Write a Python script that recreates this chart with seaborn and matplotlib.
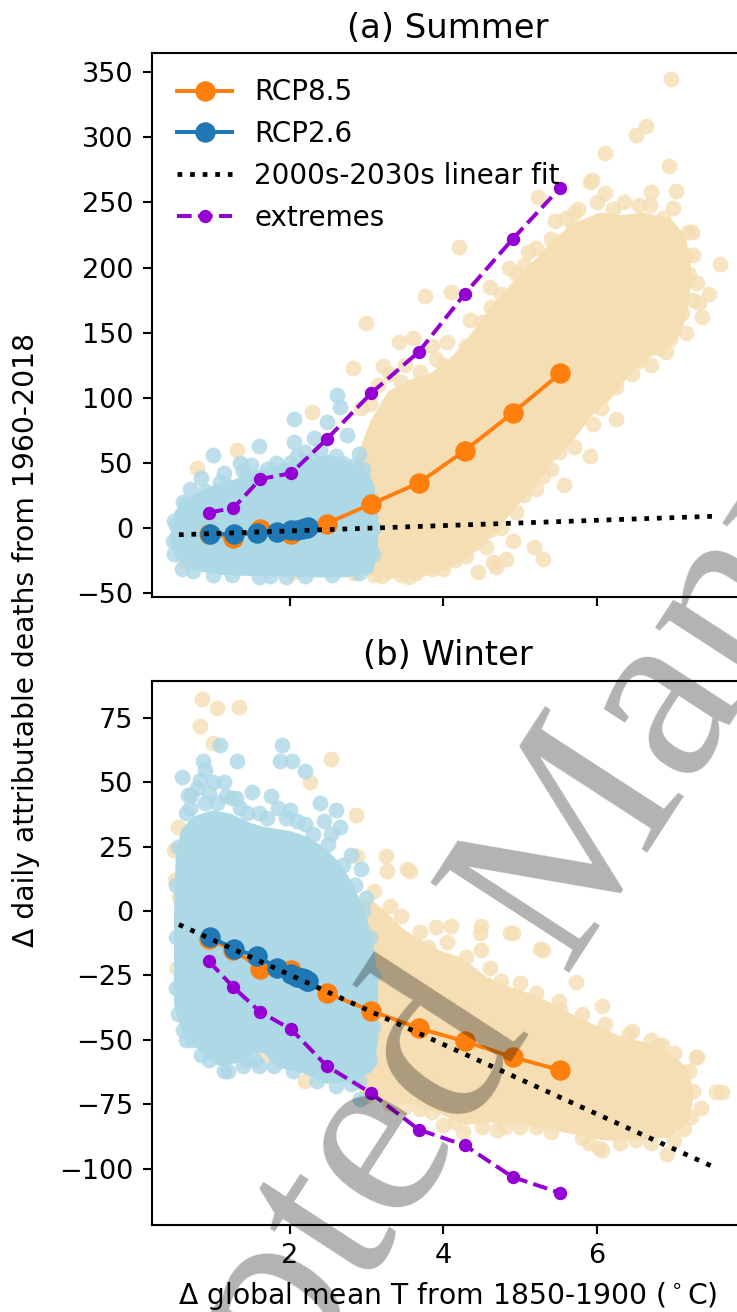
import seaborn as sns
import matplotlib.pyplot as plt

DPI = 190
OUT_PATH = "out.png"

# decade means, 2000s ... 2090s (warming above 1850-1900, degC)
rcp85_t = [0.95, 1.27, 1.62, 2.02, 2.48, 3.06, 3.68, 4.28, 4.90, 5.52]
rcp26_t = [0.97, 1.28, 1.58, 1.84, 2.02, 2.10, 2.16, 2.22, 2.24, 2.20]

summer_rcp85 = [-4.5, -7.5, -1.0, -5.0, 3.3, 18.3, 34.5, 59.4, 88.2, 118.6]
summer_rcp26 = [-4.5, -5.0, -3.8, -3.0, -2.0, -1.5, -1.0, 0.0, 0.3, -0.5]
summer_ext = [11.7, 15.3, 37.5, 42.0, 67.9, 103.4, 135.2, 179.9, 221.8, 261.3]

winter_rcp85 = [-11.0, -15.0, -22.3, -23.0, -31.8, -38.7, -45.5, -50.6, -56.7, -61.8]
winter_rcp26 = [-10.0, -14.7, -17.6, -22.0, -24.5, -25.5, -26.0, -27.0, -27.3, -26.5]
winter_ext = [-19.5, -29.6, -39.2, -45.9, -60.1, -70.7, -84.9, -91.0, -103.3, -109.5]

# 2000s-2030s linear fit, end points
fit_t = [0.56, 7.56]
summer_fit = [-5.3, 9.0]
winter_fit = [-5.2, -100.0]

# ensemble members: outline of the dense body + the members around it
s85_core_x = [2.90, 3.10, 3.40, 3.70, 4.00, 4.30, 4.50, 4.70, 4.90, 5.10, 5.35, 5.60, 5.85,
              6.10, 6.35, 6.60, 6.85, 7.00, 7.10, 7.12, 7.05, 6.90, 6.60, 6.30, 6.05, 5.80,
              5.55, 5.30, 5.00, 4.70, 4.45, 4.20, 3.90, 3.60, 3.35, 3.15, 2.95]
s85_core_y = [-30, -31, -32, -32, -26, -16, -6, 8, 22, 35, 55, 70, 90,
              103, 122, 135, 144, 152, 175, 200, 222, 232, 236, 234, 236, 230,
              220, 204, 186, 166, 146, 128, 114, 108, 100, 80, 50]
s85_x = [6.96, 6.64, 6.50, 6.10, 6.94, 5.93, 7.03, 5.23, 7.23, 7.60, 7.33, 7.37, 4.20, 3.76,
         3.00, 4.10, 3.42, 2.83, 5.57, 5.18, 5.30, 4.45, 4.81, 2.29, 1.32, 0.80, 2.93, 0.52,
         0.63, 2.06, 2.84, 6.69, 6.45, 7.18, 6.99, 5.91, 6.10, 5.69, 5.91, 6.25, 3.20, 3.55,
         4.68, 7.15, 6.80, 3.61, 4.05, 3.22, 4.35, 4.60, 4.85, 5.10, 5.45, 3.50, 3.90, 6.40,
         6.75, 5.75, 7.25,
         3.05, 3.15, 3.30, 3.45, 3.70, 3.85, 4.00, 4.30, 4.50, 4.62, 4.75, 4.95, 5.05, 5.20,
         5.40, 5.60, 5.70, 6.00, 6.20, 6.35, 6.55, 6.85, 6.70, 7.00, 7.15, 7.20, 7.25, 7.10,
         7.15, 6.95, 7.30, 7.45, 4.60, 4.75, 4.95, 5.05, 5.20, 5.40, 5.50, 5.70, 5.95, 6.05,
         6.25, 6.45, 6.70, 6.90, 5.30, 6.55, 6.80, 3.10, 3.30, 3.45, 3.65, 3.85, 4.00, 4.15,
         4.30, 4.40, 4.55, 4.65, 4.90]
s85_y = [345, 309, 302, 288, 278, 267, 259, 254, 227, 203, 173, 162, 216, 178,
         157, 181, 143, 123, 33, -15, -24, -34, -24, 89, 60, 46, 92, -7,
         -25, -34, -35, 248, 232, 227, 246, 266, 257, 230, 55, 84, -37, -38,
         -30, 190, 160, 146, 143, 124, 160, 185, 200, 212, 236, 125, 130, 150,
         200, 245, 210,
         95, 110, 118, 112, 120, 140, 125, 140, 158, 170, 180, 195, 202, 215,
         222, 238, 242, 250, 245, 250, 248, 238, 258, 222, 210, 195, 175, 165,
         150, 145, 188, 180, -2, 0, 12, 25, 30, 45, 58, 62, 80, 92,
         108, 118, 125, 135, 40, 128, 138, -36, -33, -36, -35, -32, -32, -25,
         -22, -12, -15, -26, -10]

s26_core_x = [0.55, 0.60, 0.80, 1.00, 1.30, 1.60, 1.90, 2.20, 2.50, 2.80, 3.00, 3.05, 3.05,
              3.00, 2.70, 2.30, 1.90, 1.50, 1.10, 0.80, 0.60]
s26_core_y = [-8, 10, 20, 26, 31, 38, 43, 46, 50, 44, 32, 10, -12,
              -30, -32, -32, -31, -31, -30, -27, -20]
s26_x = [1.00, 1.36, 1.60, 2.06, 2.06, 2.62, 2.66, 2.49, 2.32, 2.75, 1.82, 0.70, 0.85, 1.15,
         2.90, 2.40, 2.20, 1.50, 0.62, 2.95, 0.50, 0.52, 1.25, 1.75, 2.55, 0.75, 1.95, 2.85,
         1.40, 2.10,
         0.65, 0.90, 1.10, 1.20, 1.45, 1.70, 2.00, 2.30, 2.60, 2.70, 2.95, 3.08, 3.10, 3.08,
         0.48, 0.50, 0.60, 1.00, 1.60, 2.20, 2.90]
s26_y = [56, 50, 63, 84, 66, 102, 93, 81, 69, 71, 50, 30, 38, 42,
         57, 60, 58, 48, 20, 45, -20, 2, -36, -37, -36, -33, -38, 48,
         44, 55,
         18, 28, 35, 32, 40, 45, 50, 52, 55, 50, 38, 20, 0, -20,
         -10, 5, -32, -36, -38, -37, -35]

w85_core_x = [2.80, 3.00, 3.20, 3.40, 3.60, 3.90, 4.20, 4.50, 4.80, 5.10, 5.40, 5.70, 6.00,
              6.30, 6.60, 6.90, 7.10, 7.15, 7.10, 6.90, 6.50, 6.10, 5.60, 5.10, 4.60, 4.30,
              4.00, 3.60, 3.20, 2.90, 2.80]
w85_core_y = [0, 2, -3, -9, -13, -18, -21, -28, -32, -35, -39, -44, -48,
              -52, -54, -58, -63, -72, -80, -85, -86, -86, -83, -80, -79, -80,
              -76, -72, -71, -66, -60]
w85_x = [0.855, 1.05, 1.34, 0.83, 1.00, 2.54, 2.27, 2.86, 2.88, 3.27, 3.57, 3.91, 4.10, 4.49,
         4.91, 5.30, 5.72, 3.25, 3.53, 4.47, 4.87, 5.26, 0.51, 0.56, 0.54, 0.50, 0.55, 7.62,
         7.35, 7.30, 6.84, 6.03, 7.13, 6.91, 6.06, 4.49, 5.52, 6.06, 6.45, 6.79, 7.28, 7.55,
         1.07, 1.66, 0.80, 2.20, 4.00, 4.70, 5.90, 6.50, 3.70, 4.25, 5.00,
         3.10, 3.30, 3.45, 3.70, 3.80, 4.05, 4.30, 4.60, 4.75, 5.00, 5.20, 5.50, 5.80, 6.10,
         6.40, 6.70, 7.00, 7.20, 7.25, 7.22, 7.00, 6.70, 6.30, 5.80, 5.40, 5.20, 4.80, 4.50,
         4.15, 3.85, 3.50, 3.30, 3.00]
w85_y = [82.3, 78.9, 79.5, 72.0, 65.2, 59.1, 50.3, 37.3, 21.6, 15.5, 15.5, -6.3, -5.6, -5.6,
         -8.3, -15.2, -27.4, 21.4, 16.3, -8.6, -8.6, -14.6, 12.1, 5.3, -22, 23.9, 32.6, -70.3,
         -76.5, -56.7, -52, -92.1, -84.6, -94.5, -92.7, -15.2, -38.3, -37, -46.5, -52.4, -56.7, -70.3,
         -52, -56, -50, -66, -83, -85, -90, -89, -77, -86, -84,
         8, 2, -2, -8, -14, -12, -18, -22, -27, -28, -32, -35, -40, -44,
         -48, -50, -55, -62, -70, -80, -89, -90, -90, -88, -86, -84, -84, -84,
         -82, -78, -76, -75, -72]

w26_core_x = [0.60, 0.60, 0.60, 0.62, 0.68, 0.80, 1.00, 1.20, 1.40, 1.60, 1.80, 2.00, 2.20,
              2.40, 2.60, 2.75, 2.90, 3.00, 3.05, 3.05, 3.00, 2.80, 2.50, 2.20, 1.90, 1.70,
              1.50, 1.30, 1.10, 0.90, 0.70]
w26_core_y = [-36, -20, 0, 20, 30, 34, 36, 35, 32, 30, 29, 28, 26,
              22, 16, 8, -3, -15, -30, -50, -60, -63, -64, -60, -58, -52,
              -52, -56, -57, -52, -46]
w26_x = [1.90, 1.88, 2.03, 1.32, 0.88, 1.10, 0.83, 1.17, 1.51, 1.76, 2.20, 2.39, 2.61, 2.66,
         2.54, 2.93, 2.20, 2.00, 0.60, 1.00, 1.30, 0.70, 0.90, 2.45, 2.80, 3.00, 0.55, 0.62,
         0.75, 1.20, 0.95, 2.92, 1.60, 2.80, 1.45, 0.68,
         0.65, 0.72, 0.80, 0.90, 0.95, 1.05, 1.15, 1.25, 1.35, 1.45, 1.60, 1.70, 1.85, 1.95,
         2.10, 2.30, 2.50, 2.70, 2.85, 2.95, 3.05, 3.08, 3.08, 3.05, 2.90, 2.60, 2.35, 2.05,
         1.80, 1.55, 1.40, 1.15, 0.85, 0.65, 0.52, 0.52, 0.52, 0.55]
w26_y = [64.5, 58.4, 58.4, 58.4, 58.4, 64.5, 50.9, 44.8, 46.2, 44.8, 54.3, 42.1, 39.3, 32.5,
         29.8, 16.2, 33.9, 39.3, 52, 50, 44, 40, 42, 35, 22, 5, -40, -46,
         -50, -62, -58, -73, -60, -67, -58, 45,
         38, 45, 48, 55, 46, 42, 50, 44, 40, 38, 38, 36, 40, 36,
         35, 30, 26, 18, 10, 0, -10, -25, -45, -58, -66, -68, -66, -62,
         -60, -58, -60, -62, -56, -50, -30, -10, 10, 25]

summer_yticks = [-50, 0, 50, 100, 150, 200, 250, 300, 350]
winter_yticks = [-100, -75, -50, -25, 0, 25, 50, 75]

ORANGE = "#ff7f0e"
BLUE = "#1f77b4"
PURPLE = "darkviolet"


def draw_cloud(ax, core_x, core_y, pts_x, pts_y, color):
    # dense part of the cloud, rounded edge ~ one marker radius
    ax.fill(core_x, core_y, color=color, lw=6, joinstyle="round", zorder=1)
    sns.scatterplot(x=pts_x, y=pts_y, color=color, alpha=0.8, s=36, linewidth=0,
                    legend=False, ax=ax, zorder=1)


def draw_panel(ax, r85, r26, ext, fit, labels):
    sns.lineplot(x=rcp85_t, y=r85, color=ORANGE, marker="o", markersize=7, mec=ORANGE,
                 lw=1.5, sort=False, estimator=None, ax=ax, zorder=3,
                 label="RCP8.5" if labels else None)
    sns.lineplot(x=rcp26_t, y=r26, color=BLUE, marker="o", markersize=7, mec=BLUE,
                 lw=1.5, sort=False, estimator=None, ax=ax, zorder=3,
                 label="RCP2.6" if labels else None)
    sns.lineplot(x=fit_t, y=fit, color="black", ls=":", lw=1.8, sort=False,
                 estimator=None, ax=ax, zorder=4,
                 label="2000s-2030s linear fit" if labels else None)
    sns.lineplot(x=rcp85_t, y=ext, color=PURPLE, ls="--", marker="o", markersize=4.3,
                 mec=PURPLE, lw=1.5, sort=False, estimator=None, ax=ax, zorder=4,
                 label="extremes" if labels else None)


fig = plt.figure(figsize=(737 / DPI, 1312 / DPI), dpi=DPI)
ax1 = fig.add_axes([0.2062, 0.5451, 0.8033, 0.4142])
ax2 = fig.add_axes([0.2062, 0.0666, 0.8033, 0.4147])

# (a) summer
draw_cloud(ax1, s85_core_x, s85_core_y, s85_x, s85_y, "wheat")
draw_cloud(ax1, s26_core_x, s26_core_y, s26_x, s26_y, "lightblue")
draw_panel(ax1, summer_rcp85, summer_rcp26, summer_ext, summer_fit, True)
ax1.legend(loc="upper left", frameon=False, fontsize=10.5)
ax1.set_title("(a) Summer", fontsize=12.8)
ax1.set_ylim(-53, 364.5)
ax1.set_yticks(summer_yticks)
ax1.tick_params(labelbottom=False)

# (b) winter
draw_cloud(ax2, w85_core_x, w85_core_y, w85_x, w85_y, "wheat")
draw_cloud(ax2, w26_core_x, w26_core_y, w26_x, w26_y, "lightblue")
draw_panel(ax2, winter_rcp85, winter_rcp26, winter_ext, winter_fit, False)
if ax2.get_legend() is not None:
    ax2.get_legend().remove()
ax2.set_title("(b) Winter", fontsize=12.8)
ax2.set_ylim(-121.8, 89.6)
ax2.set_yticks(winter_yticks)
ax2.set_xlabel("Δ global mean T from 1850-1900 ($^\\circ$C)", fontsize=10.7)

for ax in (ax1, ax2):
    ax.set_xlim(0.21, 7.91)
    ax.set_xticks([2, 4, 6])
    ax.set_ylabel("")
    ax.tick_params(labelsize=10.3)

fig.text(26 / 737, 0.512, "Δ daily attributable deaths from 1960-2018",
         rotation=90, ha="center", va="center", fontsize=10.7)

# watermark of the source page
fig.text(0.749, 0.3227, "Accepted Manuscript", rotation=57, rotation_mode="anchor",
         ha="center", va="center", fontsize=96, family="Liberation Serif",
         color="black", alpha=0.3, zorder=10)

fig.savefig(OUT_PATH, dpi=DPI)
